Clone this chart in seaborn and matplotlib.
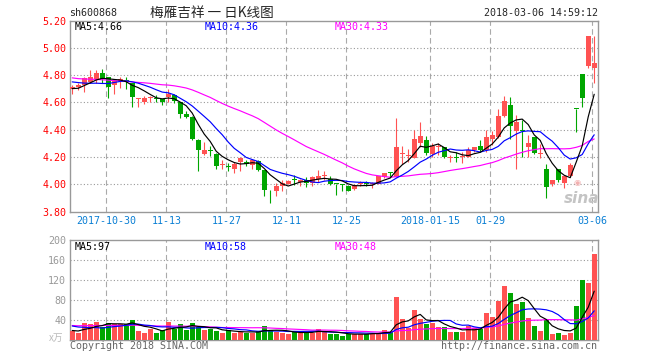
import numpy as np
import pandas as pd
import matplotlib
matplotlib.use("Agg")
import matplotlib.pyplot as plt
import seaborn as sns

# daily K-line of sh600868, 88 sessions up to 2018-03-06 (price in yuan, volume in 万 shares)
opens = [4.70, 4.715, 4.725, 4.75, 4.77, 4.815, 4.79, 4.725, 4.755, 4.765,
         4.745, 4.625, 4.605, 4.63, 4.635, 4.625, 4.64, 4.655, 4.60, 4.515,
         4.495, 4.325, 4.22, 4.25, 4.225, 4.14, 4.13, 4.11, 4.16, 4.165,
         4.14, 4.17, 4.105, 3.96, 3.953, 3.985, 4.005, 4.035, 4.02, 4.03,
         4.01, 4.035, 4.06, 4.035, 4.005, 4.0, 3.985, 3.965, 4.0, 4.01,
         4.0, 4.005, 4.05, 4.09, 4.05, 4.22, 4.21, 4.19, 4.30, 4.325,
         4.22, 4.275, 4.27, 4.195, 4.20, 4.20, 4.20, 4.25, 4.28, 4.25,
         4.33, 4.35, 4.50, 4.58, 4.39, 4.40, 4.27, 4.35, 4.225, 4.11,
         4.00, 4.11, 4.01, 4.06, 4.555, 4.81, 4.87, 4.85]
highs = [4.73, 4.74, 4.785, 4.84, 4.84, 4.845, 4.79, 4.77, 4.79, 4.79,
         4.745, 4.63, 4.65, 4.65, 4.655, 4.628, 4.70, 4.66, 4.60, 4.54,
         4.50, 4.33, 4.31, 4.28, 4.23, 4.175, 4.155, 4.16, 4.20, 4.175,
         4.185, 4.175, 4.105, 3.96, 4.007, 4.03, 4.03, 4.065, 4.04, 4.055,
         4.06, 4.105, 4.10, 4.06, 4.005, 4.005, 3.995, 4.0, 4.025, 4.025,
         4.02, 4.06, 4.085, 4.09, 4.485, 4.28, 4.255, 4.40, 4.46, 4.355,
         4.30, 4.30, 4.27, 4.215, 4.24, 4.24, 4.27, 4.275, 4.325, 4.40,
         4.39, 4.55, 4.65, 4.64, 4.51, 4.47, 4.36, 4.35, 4.295, 4.15,
         4.03, 4.11, 4.06, 4.155, 4.555, 4.81, 5.09, 5.09]
lows = [4.66, 4.695, 4.675, 4.74, 4.74, 4.74, 4.635, 4.66, 4.705, 4.70,
        4.57, 4.57, 4.59, 4.60, 4.60, 4.585, 4.60, 4.595, 4.485, 4.485,
        4.325, 4.10, 4.215, 4.21, 4.11, 4.11, 4.10, 4.08, 4.10, 4.135,
        4.115, 4.10, 3.915, 3.865, 3.914, 3.95, 4.00, 3.995, 3.985, 3.98,
        3.985, 4.02, 4.03, 3.995, 3.92, 3.95, 3.947, 3.96, 3.985, 3.985,
        3.975, 4.0, 4.045, 4.05, 4.05, 4.15, 4.16, 4.19, 4.27, 4.215,
        4.20, 4.215, 4.19, 4.16, 4.16, 4.155, 4.20, 4.24, 4.24, 4.24,
        4.29, 4.34, 4.49, 4.33, 4.11, 4.20, 4.20, 4.22, 4.196, 3.90,
        3.99, 4.02, 3.97, 4.05, 4.38, 4.57, 4.85, 4.74]
closes = [4.71, 4.73, 4.78, 4.79, 4.815, 4.77, 4.715, 4.755, 4.77, 4.75,
          4.64, 4.63, 4.635, 4.64, 4.628, 4.60, 4.66, 4.61, 4.515, 4.495,
          4.33, 4.25, 4.25, 4.245, 4.135, 4.142, 4.125, 4.15, 4.19, 4.15,
          4.175, 4.105, 3.96, 3.955, 3.985, 4.01, 4.025, 4.03, 4.03, 4.01,
          4.055, 4.06, 4.062, 4.005, 4.0, 3.995, 3.952, 3.995, 4.005, 4.005,
          4.005, 4.057, 4.08, 4.08, 4.27, 4.225, 4.215, 4.33, 4.355, 4.23,
          4.28, 4.28, 4.20, 4.20, 4.195, 4.205, 4.25, 4.27, 4.25, 4.346,
          4.36, 4.50, 4.61, 4.43, 4.46, 4.39, 4.30, 4.23, 4.23, 3.98,
          4.03, 4.03, 4.06, 4.14, 4.55, 4.63, 5.09, 4.89]
volumes = [19, 15, 34, 32, 36, 27, 35, 32, 32, 32,
           40, 18, 15, 23, 15, 20, 36, 23, 32, 20,
           34, 27, 20, 22, 18, 15, 20, 14, 17, 15,
           15, 18, 28, 20, 17, 14, 12, 17, 15, 17,
           15, 22, 16, 13, 13, 8, 13, 12, 13, 12,
           13, 15, 20, 17, 87, 42, 25, 60, 42, 32,
           35, 26, 26, 16, 17, 16, 28, 25, 23, 54,
           46, 78, 108, 94, 72, 76, 44, 28, 18, 40,
           12, 14, 11, 14, 68, 120, 114, 172]

# sessions before the window (estimated), only used to seed the moving averages
prior_closes = [4.90, 4.86, 4.82, 4.88, 4.84, 4.80, 4.86, 4.83, 4.835,
                4.78, 4.74, 4.72, 4.76, 4.79, 4.75, 4.73, 4.77, 4.74, 4.76, 4.74,
                4.78, 4.82, 4.80, 4.81, 4.79, 4.72, 4.68, 4.69, 4.71]
prior_volumes = [30, 27, 33, 29, 25, 31, 28, 34, 30, 26, 29, 32, 28, 30, 27,
                 31, 29, 33, 28, 30, 35, 40, 38, 36, 36, 20, 18, 21, 17]

tick_sessions = [6, 16, 26, 36, 46, 60, 70, 87]
tick_labels = ['2017-10-30', '11-13', '11-27', '12-11', '12-25',
               '2018-01-15', '01-29', '03-06']

RED = '#ff5252'
GREEN = '#00a600'
MA_COLORS = {5: 'black', 10: '#0000ff', 30: '#ff00ff'}
MONO = 'DejaVu Sans Mono'
CJK = ['Noto Sans CJK SC', 'DejaVu Sans']

sns.set_style('white')
plt.rcParams['font.family'] = [MONO, 'Noto Sans CJK SC']


def moving(prior, values, n):
    s = pd.Series(list(prior) + list(values), dtype=float)
    return s.rolling(n).mean().iloc[len(prior):].to_numpy()


o = np.array(opens)
h = np.array(highs)
l = np.array(lows)
c = np.array(closes)
v = np.array(volumes, dtype=float)
x = np.arange(len(c))
cols = np.where(c >= o, RED, GREEN)

W, H = 660, 360
fig = plt.figure(figsize=(W / 100, H / 100), dpi=100)


def rect(left, top, right, bottom):
    return [left / W, 1 - bottom / H, (right - left) / W, (bottom - top) / H]


ax = fig.add_axes(rect(70.3, 20.7, 597.5, 211.5))
axv = fig.add_axes(rect(70.3, 240, 597.5, 340))

# candles
ax.vlines(x, l, h, colors=cols, lw=0.8, zorder=3)
ax.bar(x, np.maximum(np.abs(c - o), 0.006), bottom=np.minimum(o, c),
       width=0.8, color=cols, lw=0, zorder=3)

# volume bars
axv.bar(x, v, width=0.8, color=cols, lw=0, zorder=3)

ma_price = {n: moving(prior_closes, closes, n) for n in (5, 10, 30)}
ma_vol = {n: moving(prior_volumes, volumes, n) for n in (5, 10, 30)}
for n in (30, 10, 5):
    sns.lineplot(x=x, y=ma_price[n], color=MA_COLORS[n], lw=0.85, ax=ax,
                 legend=False, zorder=4)
    sns.lineplot(x=x, y=ma_vol[n], color=MA_COLORS[n], lw=0.85, ax=axv,
                 legend=False, zorder=4)

tick_x = [t - 0.3 for t in tick_sessions]
for a in (ax, axv):
    a.set_xlim(-0.32, 87.55)
    for tx in tick_x:
        a.axvline(tx, color='#aaaaaa', ls=(0, (5, 3)), lw=0.8, zorder=1)
    for s in a.spines.values():
        s.set_color('#999999')
        s.set_linewidth(1)
    a.tick_params(length=0)
    a.set_xlabel('')
    a.set_ylabel('')

price_ticks = np.round(np.arange(3.8, 5.21, 0.2), 2)
ax.set_ylim(3.8, 5.2)
ax.set_yticks(price_ticks)
ax.set_yticklabels([f'{t:.2f}' for t in price_ticks], color='#ff0000',
                   fontsize=7.2, family=MONO)
for t in price_ticks[1:-1]:
    ax.axhline(t, color='#999999', ls=(0, (1, 2)), lw=0.8, zorder=1)
ax.set_xticks(tick_x)
ax.set_xticklabels(tick_labels, color='#0a7fd4', fontsize=7.2, family=MONO)
ax.tick_params(axis='x', pad=3.6)
ax.tick_params(axis='y', pad=3)

vol_ticks = [40, 80, 120, 160, 200]
axv.set_ylim(0, 200)
axv.set_yticks(vol_ticks)
axv.set_yticklabels([str(t) for t in vol_ticks], color='#999999',
                    fontsize=7.2, family=MONO)
for t in vol_ticks[:-1]:
    axv.axhline(t, color='#999999', ls=(0, (1, 2)), lw=0.8, zorder=1)
axv.set_xticks([])
axv.tick_params(axis='y', pad=3)


def ftext(px, py, s, **kw):
    kw.setdefault('fontsize', 7.2)
    kw.setdefault('va', 'center')
    fig.text(px / W, 1 - py / H, s, **kw)


ftext(69.5, 13, 'sh600868', family=MONO)
ftext(150, 12.5, '梅雁吉祥 一 日K线图', family=CJK, fontsize=9.8)
ftext(598, 13, '2018-03-06 14:59:12', ha='right', family=MONO)

ftext(74.5, 27, f'MA5:{ma_price[5][-1]:.2f}', color=MA_COLORS[5])
ftext(205, 27, f'MA10:{ma_price[10][-1]:.2f}', color=MA_COLORS[10])
ftext(335, 27, f'MA30:{ma_price[30][-1]:.2f}', color=MA_COLORS[30])

ftext(74.5, 246.5, f'MA5:{int(ma_vol[5][-1])}', color=MA_COLORS[5])
ftext(205, 246.5, f'MA10:{int(ma_vol[10][-1])}', color=MA_COLORS[10])
ftext(335, 246.5, f'MA30:{int(ma_vol[30][-1])}', color=MA_COLORS[30])

ftext(63, 338, 'x万', ha='right', color='#bbbbbb', family=CJK, fontsize=7)
ftext(70, 346, 'Copyright 2018 SINA.COM', color='#666666')
ftext(597.5, 346, 'http://finance.sina.com.cn', ha='right', color='#666666')

# sina watermark
ftext(577, 182, '◉', ha='center', color='#f3b0b0', family='DejaVu Sans', fontsize=6)
ftext(582, 198, 'sina', ha='center', color='#c4c4c4', family='DejaVu Sans',
      fontsize=11, style='italic', weight='bold')

fig.savefig('out.png', dpi=100)
